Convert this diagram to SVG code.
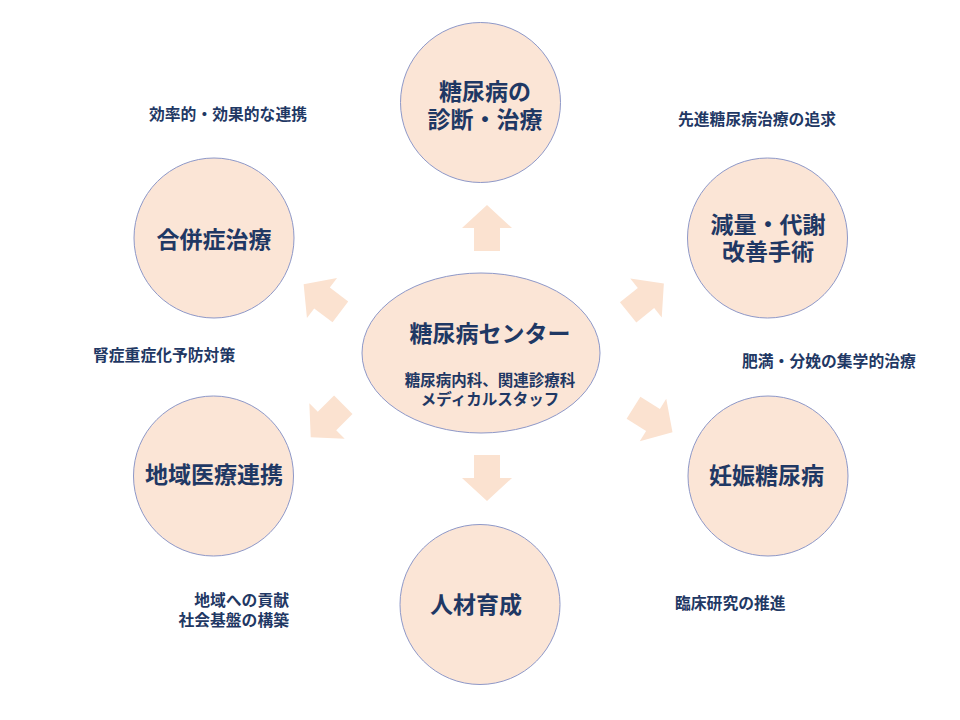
<svg xmlns="http://www.w3.org/2000/svg" width="960" height="720" viewBox="0 0 960 720">
<style>
.node{fill:#FBE5D6;stroke:#8E98C8;stroke-width:1}
.t{font-family:"Noto Sans CJK JP","Noto Sans CJK SC",sans-serif;fill:#1F3864;text-anchor:middle;dominant-baseline:central}
.big{font-size:23px;font-weight:bold}
.sm{font-size:15.5px;font-weight:bold}
.note{font-family:"Noto Sans CJK JP","Noto Sans CJK SC",sans-serif;fill:#1F3864;font-size:15.8px;font-weight:bold;dominant-baseline:central}
.arr{fill:#FBE2D0}
</style>
<defs>
<path id="ar" d="M0,-23 L25,0 L13,0 L13,23 L-13,23 L-13,0 L-25,0 Z"/>
</defs>
<rect width="960" height="720" fill="#FFFFFF"/>
<g id="connectors">
<use href="#ar" class="arr" transform="translate(487,228)"/>
<use href="#ar" class="arr" transform="translate(487,478) rotate(180)"/>
<use href="#ar" class="arr" transform="translate(322,298) rotate(-53)"/>
<use href="#ar" class="arr" transform="translate(646,298) rotate(51)"/>
<use href="#ar" class="arr" transform="translate(653,420) rotate(122)"/>
<use href="#ar" class="arr" transform="translate(327,421) rotate(-135)"/>
</g>
<g id="center">
<ellipse class="node" cx="481" cy="353" rx="119" ry="80"/>
<text class="t big" x="490" y="332">糖尿病センター</text>
<text class="t sm"><tspan x="490" y="379">糖尿病内科、関連診療科</tspan><tspan x="490" y="398">メディカルスタッフ</tspan></text>
</g>
<g id="node-top">
<circle class="node" cx="480.5" cy="102.5" r="80"/>
<text class="t big"><tspan x="485" y="90">糖尿病の</tspan><tspan x="485" y="118">診断・治療</tspan></text>
</g>
<g id="node-upper-right">
<circle class="node" cx="767.5" cy="238" r="80"/>
<text class="t big"><tspan x="768" y="223">減量・代謝</tspan><tspan x="768" y="250">改善手術</tspan></text>
</g>
<g id="node-lower-right">
<circle class="node" cx="768" cy="476" r="80"/>
<text class="t big" x="766.5" y="474">妊娠糖尿病</text>
</g>
<g id="node-bottom">
<circle class="node" cx="480" cy="604.5" r="80"/>
<text class="t big" x="476" y="603">人材育成</text>
</g>
<g id="node-lower-left">
<circle class="node" cx="213.5" cy="476" r="80"/>
<text class="t big" x="214" y="473">地域医療連携</text>
</g>
<g id="node-upper-left">
<circle class="node" cx="214" cy="238" r="80"/>
<text class="t big" x="214" y="238">合併症治療</text>
</g>
<g id="notes">
<text class="note" x="149" y="113">効率的・効果的な連携</text>
<text class="note" x="678" y="118">先進糖尿病治療の追求</text>
<text class="note" x="742" y="360">肥満・分娩の集学的治療</text>
<text class="note" x="93" y="354">腎症重症化予防対策</text>
<text class="note" x="675" y="602">臨床研究の推進</text>
<text class="note" text-anchor="end"><tspan x="289" y="599">地域への貢献</tspan><tspan x="289" y="619">社会基盤の構築</tspan></text>
</g>
</svg>
